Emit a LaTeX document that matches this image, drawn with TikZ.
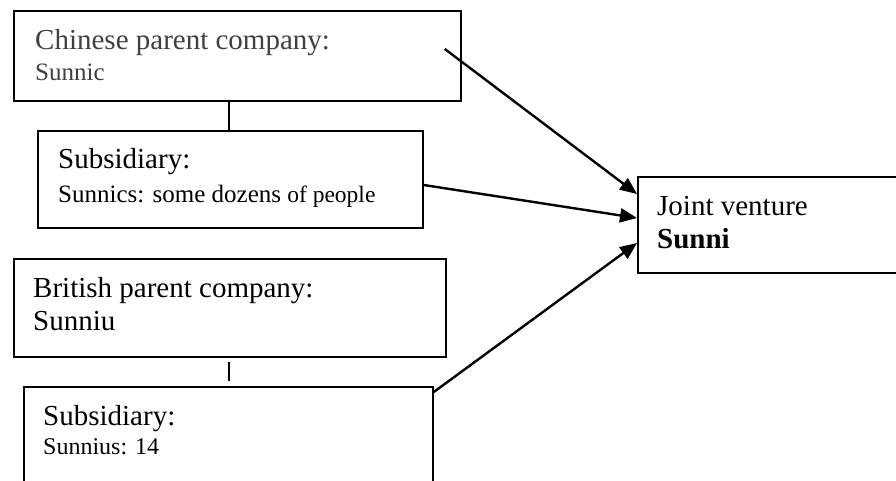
\documentclass[tikz,border=0pt]{standalone}
\usepackage{fontspec}
\setmainfont{Liberation Serif}
\usetikzlibrary{arrows.meta}
\begin{document}
\begin{tikzpicture}[x=1pt,y=-1pt,
  box/.style={draw, line width=1.8pt, rectangle, inner sep=0pt, anchor=north west},
  big/.style={anchor=base west, inner sep=0pt, font=\fontsize{29}{34}\selectfont},
  small/.style={anchor=base west, inner sep=0pt, font=\fontsize{25}{30}\selectfont},
  link/.style={line width=1.8pt},
  flow/.style={line width=2.4pt, -{Triangle[length=17pt,width=14pt]}}]
\useasboundingbox (0,0) rectangle (896,480);
\clip (0,0) rectangle (896,480);

% boxes
\node[box, minimum width=447pt, minimum height=90pt] (A) at (13,10) {};
\node[box, minimum width=385pt, minimum height=97pt] (B) at (37,130) {};
\node[box, minimum width=432pt, minimum height=98pt] (C) at (13,258) {};
\node[box, minimum width=409pt, minimum height=120pt] (D) at (23,386) {};
\node[box, minimum width=280pt, minimum height=96pt] (E) at (637,176) {};

% box texts
\node[big, text=black!75] (aT) at (35,49) {Chinese parent company:};
\node[small, text=black!75] (aS) at (35,80) {Sunnic};
\node[big] (bT) at (58,168) {Subsidiary:};
\node[small] (bS) at (58,202) {Sunnics: some dozens {\fontsize{23.5}{28}\selectfont of people}};
\node[big] (cT) at (33,297) {British parent company:};
\node[big] (cS) at (33,330) {Sunniu};
\node[big] (dT) at (43,425) {Subsidiary:};
\node[small, font=\fontsize{24}{29}\selectfont] (dS) at (43,454) {Sunnius: 14};
\node[big] (eT) at (657,215) {Joint venture};
\node[big, font=\fontsize{29}{34}\selectfont\bfseries] (eS) at (657,248) {Sunni};

% parent--subsidiary links
\draw[link] ([xshift=216pt]A.south west) -- ([xshift=192pt]B.north west);
\draw[link] ([xshift=216pt,yshift=-4pt]C.south west) -- ([xshift=206pt,yshift=5pt]D.north west);

% arrows into the joint venture
\coordinate (a1) at ([xshift=-17pt,yshift=-39pt]A.north east);
\draw[flow] (a1) -- ([yshift=-18pt]E.north west);
\draw[flow] ([yshift=-55pt]B.north east) -- ([yshift=-42pt]E.north west);
\draw[flow] ([yshift=-6pt]D.north east) -- ([yshift=-67pt]E.north west);
\end{tikzpicture}
\end{document}
